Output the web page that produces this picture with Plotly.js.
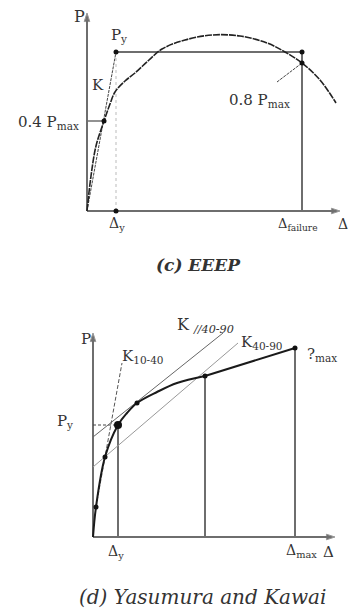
<!DOCTYPE html>
<html>
<head>
<meta charset="utf-8">
<script src="https://cdn.plot.ly/plotly-3.0.1.min.js"></script>
<style>html,body{margin:0;padding:0;background:#fff}</style>
</head>
<body>
<div id="chart" style="width:348px;height:613px"></div>
<script>

// (c) EEEP
const eeepDelta = [0, 4, 9, 17, 23, 28, 38, 48, 62, 75, 98, 125, 153, 180, 198, 215, 233, 249];
const eeepLoad  = [0, 35, 65, 90, 107, 119, 130, 138, 151, 162, 171, 176, 175, 168, 159, 148, 131, 108];
const eeepYield = [29, 159];      // Δy, Py
const eeepFailure = 215;          // Δfailure
const eeepP40 = [17, 90];         // 0.4 Pmax point
const eeepP80 = [215, 148];       // 0.8 Pmax point
const eeepAxisEnd = [253, 198];

// (d) Yasumura and Kawai
const yasCurveDelta = [0, 3, 12, 25, 34, 44, 64, 84, 112];
const yasCurveLoad  = [0, 30, 80, 112, 124, 134, 145, 154, 161];
const yasPmax = [202, 189];
const yasDots = [[3, 30], [12, 80], [44, 134], [112, 161], [202, 189]];
const yasYield = [25, 112];
const yasK1040 = [[3, 29], [30, 174]];
const yasKpar = [[0, 130], [100, 204]];
const yasK4090 = [[0, 145], [70, 194]];
const yasAxisEnd = [242, 204];

const axisGray = '#6e6e6e';
const serif = '"DejaVu Serif", serif';

const seg = (xa, ya, x, y, color, width, dash, shape) => ({
    type: 'scatter', mode: 'lines', x: x, y: y, xaxis: xa, yaxis: ya,
    line: {color: color, width: width, dash: dash || 'solid', shape: shape || 'linear'},
    hoverinfo: 'skip', showlegend: false
});

const arrowAxis = (xa, ya, x, y) => Object.assign(seg(xa, ya, x, y, axisGray, 2), {
    mode: 'lines+markers',
    marker: {symbol: 'arrow', angleref: 'previous', size: [0, 9], color: '#333'}
});

const dots = (xa, ya, x, y, size) => ({
    type: 'scatter', mode: 'markers', x: x, y: y, xaxis: xa, yaxis: ya,
    marker: {color: '#111', size: size}, hoverinfo: 'skip', showlegend: false
});

const data = [
    // top panel
    arrowAxis('x', 'y', [0, eeepAxisEnd[0]], [0, 0]),
    arrowAxis('x', 'y', [0, 0], [0, eeepAxisEnd[1]]),
    seg('x', 'y', [eeepYield[0], eeepYield[0]], [0, eeepYield[1]], '#bbb', 1, 'dot'),
    seg('x', 'y', [eeepYield[0], eeepFailure, eeepFailure], [eeepYield[1], eeepYield[1], 0], axisGray, 2),
    seg('x', 'y', [0, eeepP40[0]], [eeepP40[1], eeepP40[1]], axisGray, 1.5),
    seg('x', 'y', [0, eeepYield[0]], [0, eeepYield[1]], '#444', 1, '3px,1px'),
    seg('x', 'y', eeepDelta, eeepLoad, '#222', 1.6, '7px,1px', 'spline'),
    seg('x', 'y', [190, eeepP80[0]], [129, eeepP80[1]], '#444', 1, '3px,1px'),
    dots('x', 'y', [eeepYield[0], eeepFailure, eeepP80[0], eeepP40[0], eeepYield[0]],
        [eeepYield[1], eeepYield[1], eeepP80[1], eeepP40[1], 0], 5),

    // bottom panel
    arrowAxis('x2', 'y2', [0, yasAxisEnd[0]], [0, 0]),
    arrowAxis('x2', 'y2', [0, 0], [0, yasAxisEnd[1]]),
    seg('x2', 'y2', [yasYield[0], yasYield[0]], [0, yasYield[1]], axisGray, 2),
    seg('x2', 'y2', [yasCurveDelta[8], yasCurveDelta[8]], [0, yasCurveLoad[8]], axisGray, 2),
    seg('x2', 'y2', [yasPmax[0], yasPmax[0]], [0, yasPmax[1]], axisGray, 2),
    seg('x2', 'y2', [0, yasYield[0]], [yasYield[1], yasYield[1]], '#444', 1, '3px,2px'),
    seg('x2', 'y2', yasK1040[0], yasK1040[1], '#555', 1, '4px,2px'),
    seg('x2', 'y2', yasKpar[0], yasKpar[1], '#666', 1),
    seg('x2', 'y2', yasK4090[0], yasK4090[1], '#999', 1),
    seg('x2', 'y2', yasCurveDelta, yasCurveLoad, '#1a1a1a', 2, 'solid', 'spline'),
    seg('x2', 'y2', [yasCurveDelta[8], yasPmax[0]], [yasCurveLoad[8], yasPmax[1]], '#1a1a1a', 2),
    dots('x2', 'y2', yasDots.map(d => d[0]), yasDots.map(d => d[1]), 5),
    dots('x2', 'y2', [yasYield[0]], [yasYield[1]], 8)
];

// label placed in page pixels
const label = (px, py, text, size, anchor) => ({
    xref: 'paper', yref: 'paper', x: px / 348, y: 1 - py / 613,
    xanchor: anchor || 'center', yanchor: 'middle', showarrow: false,
    text: text, font: {family: serif, size: size, color: '#333'}
});

const layout = {
    width: 348, height: 613,
    margin: {l: 0, r: 0, t: 0, b: 0},
    paper_bgcolor: '#fff', plot_bgcolor: 'rgba(0,0,0,0)',
    font: {family: serif},
    showlegend: false,
    xaxis:  {domain: [0, 1], range: [-87, 261], visible: false, fixedrange: true},
    yaxis:  {domain: [313 / 613, 1], range: [-89, 211], visible: false, fixedrange: true},
    xaxis2: {domain: [0, 1], range: [-93, 255], visible: false, fixedrange: true, anchor: 'y2'},
    yaxis2: {domain: [0, 313 / 613], range: [-76, 237], visible: false, fixedrange: true, anchor: 'x2'},
    annotations: [
        label(79, 16, 'P', 16),
        label(119, 36, 'P<sub>y</sub>', 15),
        label(98, 85, 'K', 15),
        label(48, 122, '0.4 P<sub>max</sub>', 15),
        label(259, 101, '0.8 P<sub>max</sub>', 15),
        label(117, 224, 'Δ<sub>y</sub>', 14),
        label(298, 224, 'Δ<sub>failure</sub>', 13),
        label(336, 224, 'Δ', 14, 'left'),
        label(198, 265, '<b><i>(c) EEEP</i></b>', 17),

        label(86, 339, 'P', 15),
        label(143, 356, 'K<sub>10-40</sub>', 15),
        label(205, 326, 'K <sub><i>//40-90</i></sub>', 16),
        label(262, 342, 'K<sub>40-90</sub>', 15),
        label(322, 354, '?<sub>max</sub>', 15),
        label(65, 421, 'P<sub>y</sub>', 15),
        label(116, 552, 'Δ<sub>y</sub>', 14),
        label(301, 551, 'Δ<sub>max</sub>', 14),
        label(328, 552, 'Δ', 15),
        label(202, 597, '<i>(d) Yasumura and Kawai</i>', 20)
    ]
};

Plotly.newPlot('chart', data, layout, {staticPlot: true, displayModeBar: false});
</script>
</body>
</html>
